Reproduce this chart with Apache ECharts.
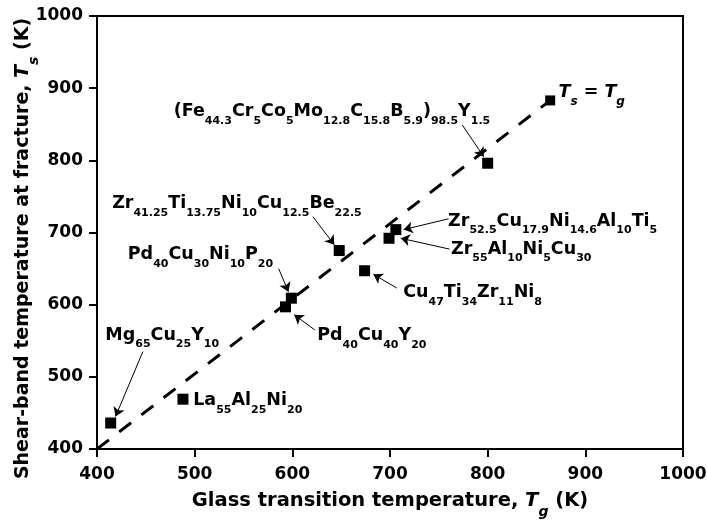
<!DOCTYPE html>
<html>
<head>
<meta charset="utf-8">
<script src="https://cdn.jsdelivr.net/npm/echarts@6/dist/echarts.min.js"></script>
<style>
  html, body { margin: 0; padding: 0; background: #fff; }
  #chart { width: 707px; height: 524px; }
</style>
</head>
<body>
<div id="chart"></div>
<script>
const FONT = 'DejaVu Sans';

// Alloys: glass transition temperature Tg (K) vs shear-band temperature at fracture Ts (K)
const alloyNames = [
  'Mg_{65}Cu_{25}Y_{10}',
  'La_{55}Al_{25}Ni_{20}',
  'Pd_{40}Cu_{40}Y_{20}',
  'Pd_{40}Cu_{30}Ni_{10}P_{20}',
  'Zr_{41.25}Ti_{13.75}Ni_{10}Cu_{12.5}Be_{22.5}',
  'Cu_{47}Ti_{34}Zr_{11}Ni_{8}',
  'Zr_{55}Al_{10}Ni_{5}Cu_{30}',
  'Zr_{52.5}Cu_{17.9}Ni_{14.6}Al_{10}Ti_{5}',
  '(Fe_{44.3}Cr_{5}Co_{5}Mo_{12.8}C_{15.8}B_{5.9})_{98.5}Y_{1.5}'
];
const alloyTg = [414, 488, 593, 599, 648, 674, 699, 706, 800];
const alloyTs = [436, 469, 597, 609, 675, 647, 692, 704, 796];

// Where each alloy name sits (left edge, text middle), in axis units
const nameTg = [408, 498, 625, 431, 415, 713, 762, 759, 478];
const nameTs = [558, 467, 557, 669, 740, 617, 677, 716, 868];

// Pointer arrows from name to marker, in axis units (null = no arrow)
const arrowFrom = [[447, 535], null, [623, 565], [586, 650], [621, 722], [707, 623], [761, 677], [760, 719], [774, 849]];
const arrowTo   = [[419, 445], null, [602, 586], [596, 618], [643, 683], [683, 642], [711, 692], [714, 704], [796, 805]];

// Ts = Tg guide line (end carries the key marker)
const guideTg = [400, 864];
const guideTs = [400, 883];
const guideKeyAt = [872, 894];

// Axis ranges
const axisMin = 400, axisMax = 1000, axisStep = 100;

// Convert "A_{sub}B" markup into ECharts rich-text tokens
function toRich(markup, main, sub) {
  const parts = markup.split(/_\{([^}]*)\}/);
  let out = '';
  parts.forEach((p, i) => {
    if (p === '') return;
    out += '{' + (i % 2 ? sub : main) + '|' + p + '}';
  });
  return out;
}

const labelRich = {
  m: { fontFamily: FONT, fontWeight: 'bold', fontSize: 17.5, lineHeight: 30, color: '#000' },
  s: { fontFamily: FONT, fontWeight: 'bold', fontSize: 11, lineHeight: 12, verticalAlign: 'bottom', color: '#000' },
  i: { fontFamily: FONT, fontWeight: 'bold', fontStyle: 'italic', fontSize: 17.5, lineHeight: 30, color: '#000' },
  si: { fontFamily: FONT, fontWeight: 'bold', fontStyle: 'italic', fontSize: 12, lineHeight: 12, verticalAlign: 'bottom', color: '#000' }
};

function nameRich(size) {
  return {
    b: { fontFamily: FONT, fontWeight: 'bold', fontSize: size, lineHeight: 36, color: '#000' },
    i: { fontFamily: FONT, fontWeight: 'bold', fontStyle: 'italic', fontSize: size, lineHeight: 36, color: '#000' },
    s: { fontFamily: FONT, fontWeight: 'bold', fontStyle: 'italic', fontSize: 14, lineHeight: 14, verticalAlign: 'bottom', color: '#000' }
  };
}

const markerData = alloyTg.map((t, i) => [t, alloyTs[i]]);

const nameData = alloyNames.map((n, i) => ({
  value: [nameTg[i], nameTs[i]],
  label: { formatter: toRich(n, 'm', 's') }
}));
nameData.push({
  value: guideKeyAt,
  label: { formatter: '{i|T}{si|s}{m| = }{i|T}{si|g}' }
});

const arrowData = [];
arrowFrom.forEach((f, i) => {
  if (f && arrowTo[i]) arrowData.push({ coords: [f, arrowTo[i]] });
});

const axisCommon = {
  type: 'value',
  min: axisMin,
  max: axisMax,
  interval: axisStep,
  nameLocation: 'middle',
  nameMoveOverlap: false,
  axisLine: { show: true, onZero: false, lineStyle: { color: '#000', width: 2 } },
  axisTick: { show: true, inside: false, length: 8, lineStyle: { color: '#000', width: 2 } },
  splitLine: { show: false },
  axisLabel: {
    color: '#000', fontFamily: FONT, fontWeight: 'bold', fontSize: 17,
    formatter: v => String(v)
  }
};

const chart = echarts.init(document.getElementById('chart'), null, { renderer: 'canvas' });
chart.setOption({
  animation: false,
  backgroundColor: '#fff',
  grid: {
    left: 97, right: 24, top: 16, bottom: 75,
    containLabel: false,
    outerBoundsMode: 'none',
    show: true,
    borderColor: '#000',
    borderWidth: 2
  },
  xAxis: Object.assign({}, axisCommon, {
    name: '{b|Glass transition temperature, }{i|T}{s|g}{b| (K)}',
    nameGap: 34,
    nameTextStyle: { rich: nameRich(19.5) },
    axisLabel: Object.assign({}, axisCommon.axisLabel, { margin: 17 })
  }),
  yAxis: Object.assign({}, axisCommon, {
    name: '{b|Shear-band temperature at fracture, }{i|T}{s|s}{b| (K)}',
    nameGap: 56,
    nameTextStyle: { rich: nameRich(19), padding: [0, 32, 0, 0] },
    axisLabel: Object.assign({}, axisCommon.axisLabel, { margin: 14 })
  }),
  series: [
    {
      name: 'Ts = Tg',
      type: 'line',
      data: [
        { value: [guideTg[0], guideTs[0]], symbol: 'none' },
        { value: [guideTg[1], guideTs[1]] }
      ],
      symbol: 'rect',
      symbolSize: 10,
      showSymbol: true,
      itemStyle: { color: '#000', opacity: 1 },
      lineStyle: { color: '#000', width: 3, type: [15, 13] },
      silent: true,
      z: 2
    },
    {
      type: 'lines',
      coordinateSystem: 'cartesian2d',
      data: arrowData,
      symbol: ['none', 'arrow'],
      symbolSize: [6, 9],
      lineStyle: { color: '#000', width: 1, opacity: 1, curveness: 0 },
      silent: true,
      z: 3
    },
    {
      type: 'scatter',
      data: markerData,
      symbol: 'rect',
      symbolSize: 11,
      itemStyle: { color: '#000', opacity: 1 },
      silent: true,
      z: 4
    },
    {
      type: 'scatter',
      data: nameData,
      symbolSize: 1,
      itemStyle: { color: '#fff', opacity: 0 },
      label: {
        show: true,
        position: 'right',
        distance: 0,
        color: '#000',
        opacity: 1,
        rich: labelRich
      },
      silent: true,
      z: 5
    }
  ]
});
</script>
</body>
</html>
